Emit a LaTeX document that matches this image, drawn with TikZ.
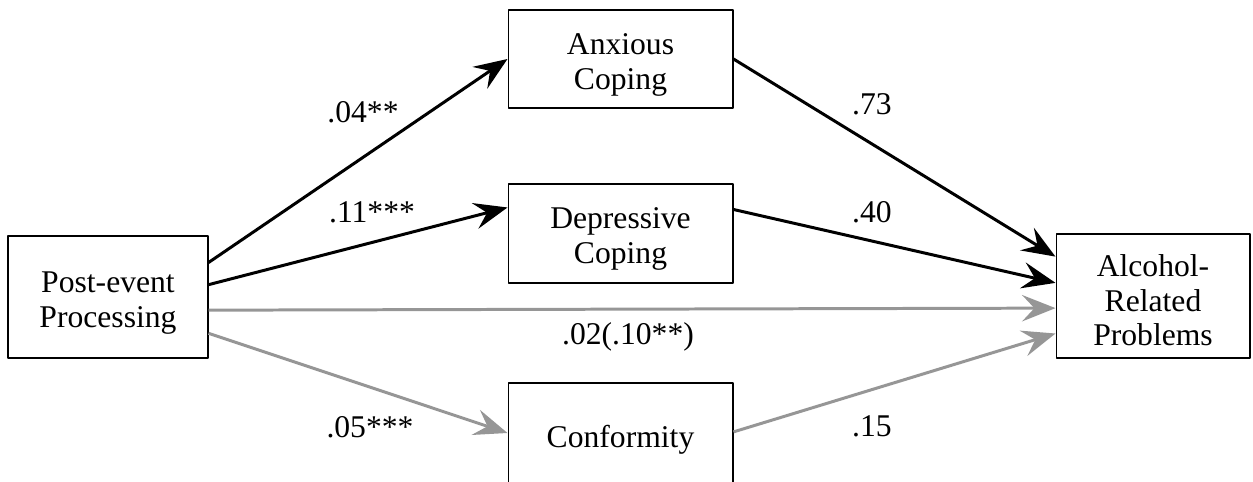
\documentclass[tikz,border=0pt]{standalone}
\usepackage{fontspec}
\setmainfont{Liberation Serif}
\usetikzlibrary{arrows.meta,calc}
\definecolor{pathgray}{RGB}{150,150,150}
\begin{document}
\begin{tikzpicture}[x=0.02cm, y=-0.02cm, line join=round,
		var/.style={draw, line width=0.6pt, inner sep=0pt},
		vtext/.style={inner sep=0pt, align=center, font=\fontsize{18}{19.6}\selectfont},
		coef/.style={anchor=base, inner sep=0pt, font=\fontsize{18}{19.6}\selectfont},
		sig/.style={line width=1.7pt, -{Stealth[length=19pt,width=15pt,inset=7pt]}},
		nsig/.style={sig, pathgray}]
	\clip (0,0) rectangle (1253,482);
	
	% variables
	\node[var, minimum width=4cm, minimum height=2.44cm] (pep) at (108,297) {};
	\node[var, minimum width=4.5cm, minimum height=1.96cm] (anx) at (620.5,59) {};
	\node[var, minimum width=4.5cm, minimum height=1.98cm] (dep) at (620.5,233.5) {};
	\node[var, minimum width=4.5cm, minimum height=2.2cm] (con) at (620.5,438) {};
	\node[var, minimum width=3.88cm, minimum height=2.48cm] (alc) at (1153,296) {};
	
	\node[vtext] (pept) at ([yshift=-3.4pt]pep.center) {Post-event\\Processing};
	\node[vtext] (anxt) at ([yshift=-3.4pt]anx.center) {Anxious\\Coping};
	\node[vtext] (dept) at ([yshift=-3pt]dep.center) {Depressive\\Coping};
	\node[vtext] (cont) at ([yshift=-1pt]con.center) {Conformity};
	\node[vtext] (alct) at ([yshift=-2.5pt]alc.center) {Alcohol-\\Related\\Problems};
	
	% paths
	\draw[sig] ($(pep.north east)!0.22!(pep.south east)$) -- (anx.west);
	\draw[sig] ($(pep.north east)!0.40!(pep.south east)$) -- ($(dep.north west)!0.24!(dep.south west)$);
	\draw[nsig] ($(pep.north east)!0.607!(pep.south east)$) -- ($(alc.north west)!0.597!(alc.south west)$);
	\draw[nsig] ($(pep.north east)!0.795!(pep.south east)$) -- ($(con.north west)!0.455!(con.south west)$);
	\draw[sig] (anx.east) -- ($(alc.north west)!0.185!(alc.south west)$);
	\draw[sig] ($(dep.north east)!0.26!(dep.south east)$) -- ($(alc.north west)!0.395!(alc.south west)$);
	\draw[nsig] ($(con.north east)!0.445!(con.south east)$) -- ($(alc.north west)!0.80!(alc.south west)$);
	
	% coefficients
	\node[coef] (c1) at (363,123) {.04**};
	\node[coef] (c2) at (372,223) {.11***};
	\node[coef] (c3) at (872,115) {.73};
	\node[coef] (c4) at (872,223) {.40};
	\node[coef] (c5) at (628,345) {.02(.10**)};
	\node[coef] (c6) at (370,438) {.05***};
	\node[coef] (c7) at (872,437) {.15};
\end{tikzpicture}
\end{document}
